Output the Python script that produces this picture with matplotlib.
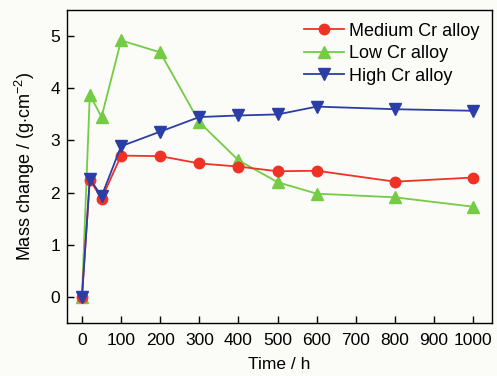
import matplotlib
matplotlib.use("Agg")
import matplotlib.pyplot as plt

plt.rcParams['font.family'] = ['Liberation Sans', 'DejaVu Sans']
plt.rcParams['mathtext.fontset'] = 'custom'
plt.rcParams['mathtext.rm'] = 'Liberation Sans'
plt.rcParams['mathtext.it'] = 'Liberation Sans'

time_h = [0, 20, 50, 100, 200, 300, 400, 500, 600, 800, 1000]
medium_cr = [0, 2.25, 1.88, 2.71, 2.70, 2.56, 2.50, 2.41, 2.42, 2.21, 2.29]
low_cr = [0, 3.88, 3.45, 4.92, 4.69, 3.35, 2.62, 2.20, 1.98, 1.91, 1.73]
high_cr = [0, 2.27, 1.93, 2.89, 3.17, 3.45, 3.48, 3.50, 3.65, 3.60, 3.57]
xticks = list(range(0, 1001, 100))
yticks = [0, 1, 2, 3, 4, 5]

bg = '#fbfbf8'
fig = plt.figure(figsize=(4.97, 3.76), dpi=100, facecolor=bg)
ax = fig.add_axes([0.135, 0.141, 0.855, 0.832], facecolor=bg)

ax.plot(time_h, medium_cr, '-o', color='#f03226', lw=1.3, ms=7.5, label='Medium Cr alloy', zorder=3)
ax.plot(time_h, low_cr, '-^', color='#74cc45', lw=1.3, ms=8, label='Low Cr alloy', zorder=2)
ax.plot(time_h, high_cr, '-v', color='#2b3ea8', lw=1.3, ms=8, label='High Cr alloy', zorder=4)

ax.set_xlim(-38, 1048)
ax.set_ylim(-0.5, 5.5)
ax.set_xticks(xticks)
ax.set_yticks(yticks)
ax.tick_params(direction='in', length=5, width=1, labelsize=12.5, top=False, right=False)
ax.tick_params(axis='x', pad=7)
ax.tick_params(axis='y', pad=5)
for s in ax.spines.values():
    s.set_linewidth(1.0)
ax.set_xlabel('Time / h', fontsize=12.5, labelpad=7)
ax.set_ylabel('Mass change / (g$\\cdot$cm$^{-2}$)', fontsize=13, labelpad=10)

leg = ax.legend(loc='upper right', frameon=False, fontsize=13, handlelength=2.2,
                handletextpad=0.3, labelspacing=0.3, borderaxespad=0.3)

fig.savefig('out.png', dpi=100, facecolor=bg)
